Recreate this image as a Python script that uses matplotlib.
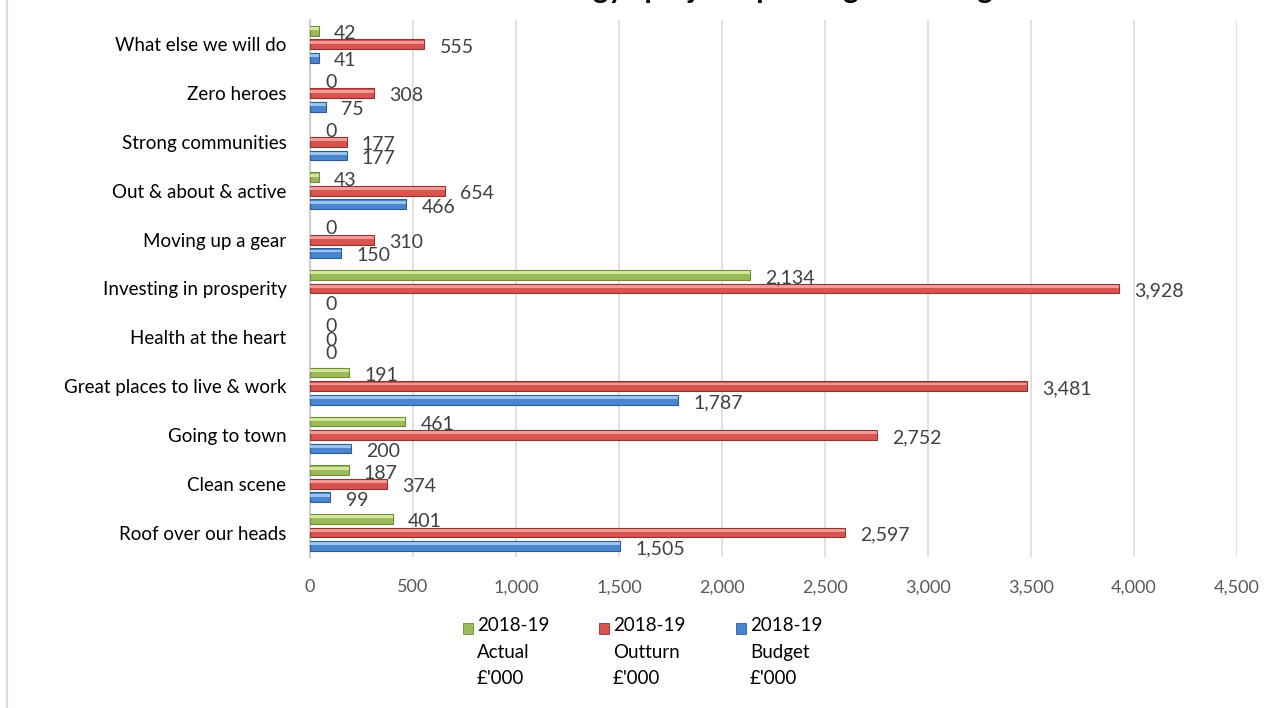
import numpy as np
import matplotlib
matplotlib.use("Agg")
import matplotlib.pyplot as plt
from matplotlib.patches import Rectangle
from matplotlib.lines import Line2D

plt.rcParams["font.family"] = ["Lato", "DejaVu Sans"]

# ---- data (bottom -> top, as drawn) ----
categories = ["Roof over our heads", "Clean scene", "Going to town",
              "Great places to live & work", "Health at the heart",
              "Investing in prosperity", "Moving up a gear",
              "Out & about & active", "Strong communities", "Zero heroes",
              "What else we will do"]
actual = [401, 187, 461, 191, 0, 2134, 0, 43, 0, 0, 42]
outturn = [2597, 374, 2752, 3481, 0, 3928, 310, 654, 177, 308, 555]
budget = [1505, 99, 200, 1787, 0, 0, 150, 466, 177, 75, 41]
series_names = ["2018-19\nActual\n£'000", "2018-19\nOutturn\n£'000", "2018-19\nBudget\n£'000"]
xticks = np.arange(0, 4501, 500)

# face, highlight, edge
styles = [("#9BBB59", "#D2E79A", "#6E8A3A"),
          ("#D9534F", "#F29A97", "#8E3431"),
          ("#4A86CF", "#9CC3EE", "#2F5B93")]

fig = plt.figure(figsize=(12.77, 7.08), dpi=100)
ax = fig.add_axes([0.2428, 0.2133, 0.9687 - 0.2428, 0.9718 - 0.2133])

y = np.arange(len(categories))
off = 0.277
h = 0.2
for k, (vals, (fc, hc, ec)) in enumerate(zip([actual, outturn, budget], styles)):
    yy = y + off * (1 - k)
    edges = [ec if v > 0 else "none" for v in vals]
    ax.barh(yy, vals, height=h, color=fc, edgecolor=edges, linewidth=0.8, zorder=3)
    ax.barh(yy + 0.22 * h, vals, height=0.3 * h, color=hc, linewidth=0, zorder=4)
    for yi, v in zip(yy, vals):
        ax.annotate(f"{v:,}", xy=(v, yi), xytext=(11, -2), textcoords="offset points",
                    ha="left", va="center", fontsize=14, color="#404040", zorder=5)

ax.set_xlim(0, 4500)
ax.set_ylim(-0.5, len(categories) - 0.5)
ax.set_xticks(xticks)
ax.set_xticklabels([f"{t:,}" for t in xticks])
ax.set_yticks(y)
ax.set_yticklabels(categories)
ax.tick_params(axis="x", length=0, pad=16, labelsize=13, labelcolor="#595959")
ax.tick_params(axis="y", length=0, pad=17, labelsize=13.5, labelcolor="#000000")
ax.grid(axis="x", color="#D9D9D9", linewidth=1.1, zorder=0)
for s in ["top", "right", "bottom"]:
    ax.spines[s].set_visible(False)
ax.spines["left"].set_color("#D0D0D0")
ax.spines["left"].set_linewidth(1.6)

# title (clipped at the top edge, as in the source image)
fig.text(0.6, 1.003, "Strategy/ project spend against budget", ha="center",
         va="baseline", fontsize=21, fontweight="bold", color="#000000")

# chart border on the left
fig.add_artist(Line2D([0.0058, 0.0058], [0, 1], transform=fig.transFigure,
                      color="#D9D9D9", linewidth=1.6))

# legend (manual)
leg_x = [467 / 1277, 603 / 1277, 740 / 1277]
for (fc, hc, ec), name, lx in zip(styles, series_names, leg_x):
    fig.add_artist(Rectangle((lx - 4 / 1277, 1 - 634 / 708), 10 / 1277, 11 / 708,
                             transform=fig.transFigure, facecolor=fc, edgecolor=ec,
                             linewidth=0.6))
    fig.text(lx + 10 / 1277, 1 - 617 / 708, name, ha="left", va="top", fontsize=13.5,
             linespacing=1.68, color="#000000")

fig.savefig("out.png", dpi=100)
